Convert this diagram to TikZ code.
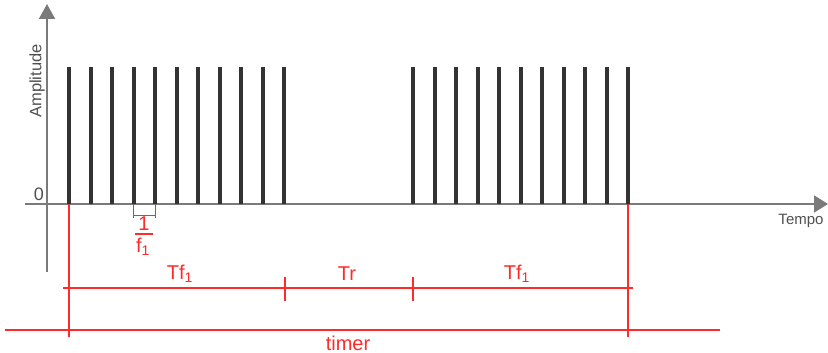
\documentclass[tikz,border=0pt]{standalone}
\usepackage{fontspec}
\setmainfont{Liberation Sans}
\usetikzlibrary{arrows.meta}

\definecolor{axisgray}{HTML}{7A7A7A}
\definecolor{txtgray}{HTML}{505050}
\definecolor{pulsegray}{HTML}{333333}
\definecolor{markred}{HTML}{FF2B2B}

\begin{document}
\begin{tikzpicture}[x=1pt,y=1pt]
\tikzstyle{every node}+=[inner sep=0pt]
\tikzstyle{axis}=[draw=axisgray, line width=1.8pt]
\tikzstyle{pulse}=[draw=pulsegray, line width=4pt]
\tikzstyle{redline}=[draw=markred, line width=1.3pt]
\tikzstyle{redlbl}=[text=markred, font=\fontsize{20}{20}\selectfont]
\useasboundingbox (0,0) rectangle (828,-353);
% axes
\coordinate (ybot) at (47,-272);
\coordinate (ytop) at (47,-4);
\coordinate (xleft) at (25,-204);
\coordinate (xright) at (828,-204);
\draw [axis, -{Triangle[length=15pt,width=16pt]}] (ybot) -- (ytop);
\draw [axis, -{Triangle[length=14pt,width=17pt]}] (xleft) -- (xright);
\node [rotate=90, text=txtgray, font=\fontsize{16.5}{16.5}\selectfont] (amp) at (37,-81) {Amplitude};
\node [text=txtgray, font=\fontsize{18}{18}\selectfont] (zero) at (39,-194) {0};
\node [text=txtgray, font=\fontsize{15}{15}\selectfont] (tempo) at (801,-221) {Tempo};
% pulses
\foreach \i in {0,...,10} {
  \draw [pulse] (69+21.5*\i,-67) -- (69+21.5*\i,-204);
  \draw [pulse] (413+21.5*\i,-67) -- (413+21.5*\i,-204);
}
% 1/f1
\coordinate (fa) at (133,-215);
\coordinate (fb) at (155,-215);
\draw [redline, line width=0.9pt] (fa) -- (fb);
\draw [redline, line width=0.9pt] (133,-204) -- (133,-218);
\draw [redline, line width=0.9pt] (155,-204) -- (155,-218);
\node [redlbl] (one) at (144,-224) {1};
\draw [redline] (135,-234) -- (153,-234);
\node [redlbl] (fone) at (143,-247) {f\textsubscript{1}};
% time spans
\coordinate (s0) at (69,-204);
\coordinate (s1) at (628,-204);
\coordinate (e0) at (69,-337);
\coordinate (e1) at (628,-337);
\draw [redline] (s0) -- (e0);
\draw [redline] (s1) -- (e1);
\coordinate (ta) at (63,-288);
\coordinate (tb) at (633,-288);
\draw [redline] (ta) -- (tb);
\draw [redline] (285,-277) -- (285,-301);
\draw [redline] (413,-277) -- (413,-301);
\coordinate (ra) at (5,-330);
\coordinate (rb) at (720,-330);
\draw [redline] (ra) -- (rb);
\node [redlbl] (tf1) at (180,-274) {Tf\textsubscript{1}};
\node [redlbl] (tr) at (347,-274) {Tr};
\node [redlbl] (tf2) at (517,-274) {Tf\textsubscript{1}};
\node [redlbl] (timer) at (348,-343) {timer};
\end{tikzpicture}
\end{document}
